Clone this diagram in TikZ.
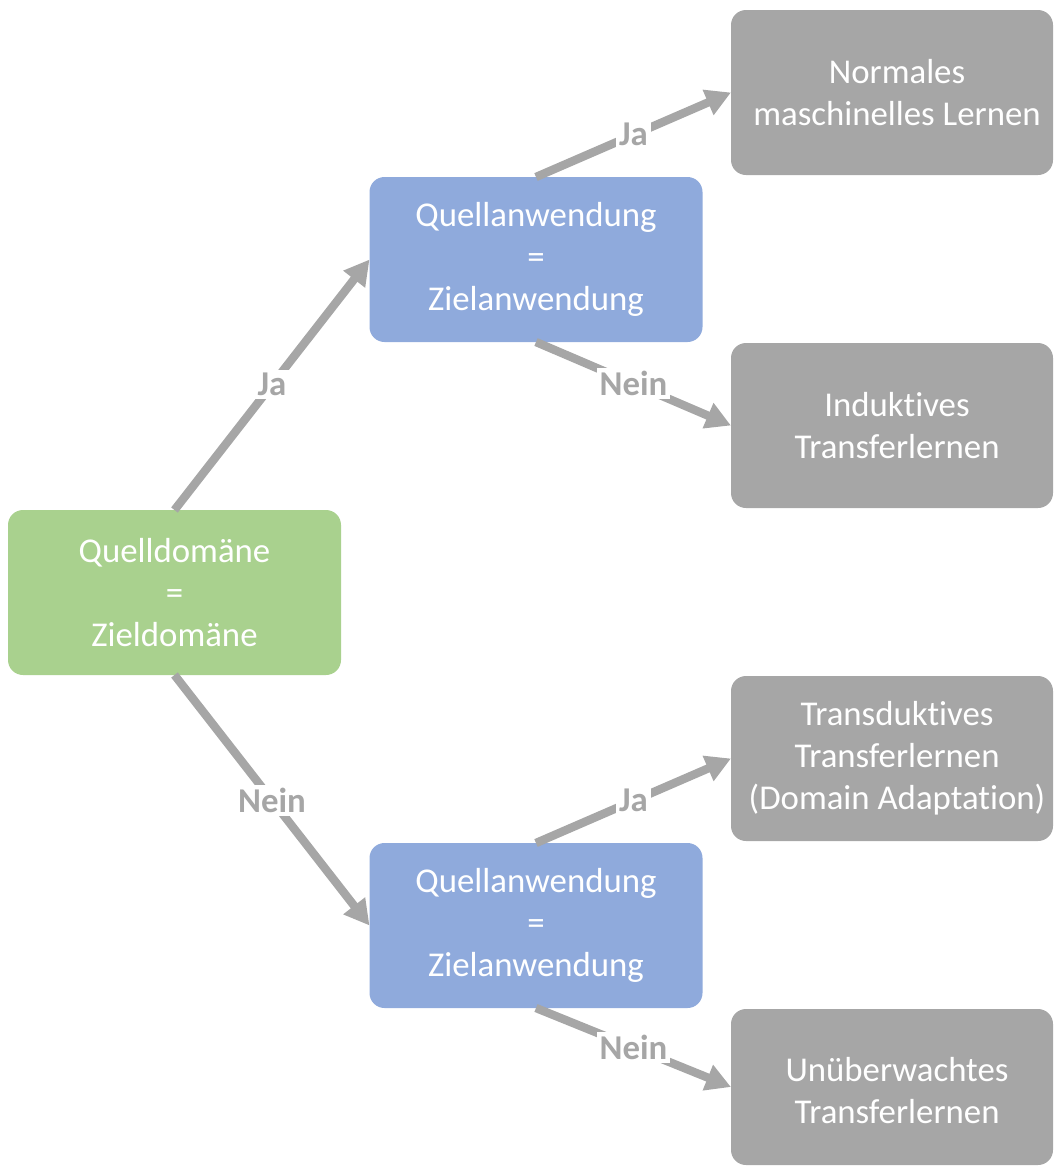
\documentclass[tikz,border=0pt]{standalone}
\usepackage{fontspec}
\setmainfont{Carlito}[Ligatures={NoCommon}]
\usetikzlibrary{arrows.meta}
\definecolor{boxgreen}{HTML}{A9D18E}
\definecolor{boxblue}{HTML}{8FAADC}
\definecolor{boxgray}{HTML}{A6A6A6}
\begin{document}
\begin{tikzpicture}[x=0.5pt,y=-0.5pt,
  box/.style={rounded corners=7.5pt, draw=none, minimum width=166.5pt,
    minimum height=82.5pt, inner sep=0pt, outer sep=0pt, text=white,
    align=center, font=\fontsize{17.4}{21}\selectfont},
  decision/.style={box, fill=boxblue},
  start/.style={box, fill=boxgreen},
  result/.style={box, fill=boxgray, minimum width=161pt},
  restext/.style={text=white, align=center, inner sep=0pt,
    font=\fontsize{17.4}{21}\selectfont},
  arr/.style={draw=boxgray, line width=4.2pt,
    -{Triangle[length=12.5pt,width=13pt]}},
  lbl/.style={fill=white, text=boxgray, inner sep=1.5pt,
    font=\fontsize{17.4}{21}\selectfont\bfseries}
]
\useasboundingbox (0,0) rectangle (1054,1169);

% decision boxes
\node[start] (dom) at (174.5,592.5) {Quelldomäne\\=\\Zieldomäne};
\node[decision] (appA) at (536,259.5) {Quellanwendung\\=\\Zielanwendung};
\node[decision] (appB) at (536,925.5) {Quellanwendung\\=\\Zielanwendung};

% result boxes
\node[result] (r1) at (892,92.5) {};
\node[result] (r2) at (892,425.5) {};
\node[result] (r3) at (892,758.5) {};
\node[result, minimum height=78pt] (r4) at (892,1087) {};
\node[restext] (r1t) at ([xshift=2.5pt]r1.center) {Normales\\maschinelles Lernen};
\node[restext] (r2t) at ([xshift=2.5pt]r2.center) {Induktives\\Transferlernen};
\node[restext] (r3t) at ([xshift=2.5pt]r3.center) {Transduktives\\Transferlernen\\(Domain Adaptation)};
\node[restext] (r4t) at ([xshift=2.5pt,yshift=-2pt]r4.center) {Unüberwachtes\\Transferlernen};

% connectors
\draw[arr] (dom.north) -- node[lbl] {Ja} (appA.west);
\draw[arr] (dom.south) -- node[lbl] {Nein} (appB.west);
\draw[arr] (appA.north) -- node[lbl] {Ja} (r1.west);
\draw[arr] (appA.south) -- node[lbl] {Nein} (r2.west);
\draw[arr] (appB.north) -- node[lbl] {Ja} (r3.west);
\draw[arr] (appB.south) -- node[lbl] {Nein} (r4.west);
\end{tikzpicture}
\end{document}
